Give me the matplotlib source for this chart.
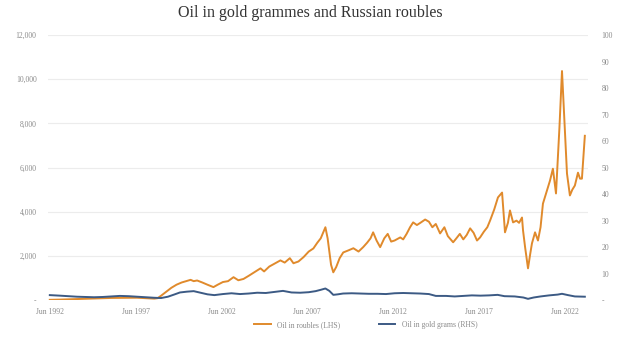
import matplotlib.pyplot as plt
from matplotlib.ticker import FuncFormatter, MultipleLocator

# oil price in roubles (left axis), decimal year -> value
rub_years = [1992.42, 1993.0, 1993.5, 1994.0, 1994.5, 1995.0, 1995.5, 1996.0, 1996.5, 1997.0,
             1997.5, 1998.0, 1998.5, 1998.7, 1998.9, 1999.2, 1999.5, 1999.8, 2000.1, 2000.4,
             2000.62, 2000.8, 2001.0, 2001.3, 2001.6, 2001.95, 2002.2, 2002.5, 2002.8, 2003.12,
             2003.4, 2003.7, 2004.0, 2004.3, 2004.69, 2004.9, 2005.2, 2005.5, 2005.85, 2006.1,
             2006.4, 2006.61, 2006.9, 2007.2, 2007.5, 2007.77, 2008.0, 2008.2, 2008.47, 2008.6,
             2008.8, 2008.93, 2009.1, 2009.3, 2009.51, 2009.8, 2010.1, 2010.4, 2010.67, 2010.9,
             2011.1, 2011.25, 2011.45, 2011.66, 2011.9, 2012.1, 2012.3, 2012.5, 2012.83, 2013.0,
             2013.2, 2013.4, 2013.58, 2013.8, 2014.0, 2014.28, 2014.5, 2014.7, 2014.9, 2015.15,
             2015.4, 2015.6, 2015.91, 2016.1, 2016.3, 2016.5, 2016.7, 2016.9, 2017.1, 2017.3,
             2017.48, 2017.7, 2017.9, 2018.06, 2018.3, 2018.52, 2018.76, 2018.93, 2019.1, 2019.22,
             2019.4, 2019.6, 2019.75, 2019.92, 2019.98, 2020.1, 2020.27, 2020.4, 2020.5, 2020.68,
             2020.85, 2021.0, 2021.14, 2021.35, 2021.55, 2021.72, 2021.9, 2022.1, 2022.25, 2022.4,
             2022.54, 2022.71, 2022.85, 2023.0, 2023.18, 2023.3, 2023.41, 2023.58]
rub_values = [15, 25, 40, 50, 60, 75, 90, 100, 105, 115,
              110, 90, 70, 90, 200, 380, 560, 700, 800, 870,
              920, 860, 890, 800, 700, 590, 700, 820, 860, 1040,
              900, 960, 1100, 1250, 1440, 1300, 1520, 1650, 1800, 1700,
              1900, 1670, 1750, 1950, 2200, 2340, 2600, 2800, 3300, 2800,
              1600, 1260, 1500, 1900, 2160, 2250, 2350, 2200, 2400, 2600,
              2800, 3070, 2700, 2400, 2800, 3000, 2650, 2700, 2840, 2750,
              3000, 3300, 3520, 3400, 3500, 3650, 3550, 3300, 3450, 3020,
              3300, 2900, 2620, 2800, 3000, 2750, 2950, 3250, 3050, 2700,
              2840, 3100, 3300, 3600, 4100, 4650, 4870, 3070, 3500, 4060,
              3520, 3600, 3500, 3740, 3160, 2400, 1440, 2100, 2570, 3070,
              2700, 3300, 4370, 4900, 5410, 5950, 4830, 7800, 10370, 8000,
              5730, 4740, 5000, 5190, 5770, 5500, 5500, 7440]

# oil price in gold grams (right axis)
gold_years = [1992.42, 1993.0, 1993.5, 1994.0, 1994.5, 1995.0, 1995.5, 1996.0, 1996.5, 1997.0,
              1997.5, 1998.0, 1998.5, 1998.9, 1999.3, 1999.7, 2000.0, 2000.4, 2000.8, 2001.2,
              2001.6, 2002.0, 2002.5, 2003.0, 2003.5, 2004.0, 2004.5, 2005.0, 2005.5, 2006.0,
              2006.5, 2007.0, 2007.5, 2007.9, 2008.2, 2008.47, 2008.7, 2008.93, 2009.2, 2009.5,
              2010.0, 2010.5, 2011.0, 2011.5, 2012.0, 2012.5, 2013.0, 2013.5, 2014.0, 2014.5,
              2014.9, 2015.5, 2016.0, 2016.5, 2017.0, 2017.5, 2018.0, 2018.5, 2018.9, 2019.5,
              2020.0, 2020.27, 2020.6, 2021.0, 2021.5, 2022.0, 2022.25, 2022.6, 2023.0, 2023.58]
gold_values = [1.9, 1.7, 1.5, 1.3, 1.2, 1.1, 1.2, 1.4, 1.6, 1.5,
               1.3, 1.1, 0.9, 0.8, 1.3, 2.2, 2.9, 3.2, 3.4, 2.8,
               2.2, 1.9, 2.3, 2.6, 2.3, 2.5, 2.8, 2.7, 3.1, 3.5,
               2.9, 2.8, 3.0, 3.4, 3.9, 4.4, 3.5, 2.0, 2.2, 2.5,
               2.6, 2.5, 2.4, 2.4, 2.3, 2.6, 2.7, 2.6, 2.5, 2.3,
               1.6, 1.6, 1.4, 1.6, 1.8, 1.7, 1.8, 2.0, 1.5, 1.4,
               1.0, 0.5, 1.0, 1.4, 1.8, 2.1, 2.4, 1.9, 1.4, 1.3]

tick_years = [1992.42, 1997.42, 2002.42, 2007.42, 2012.42, 2017.42, 2022.42]
tick_labels = ["Jun 1992", "Jun 1997", "Jun 2002", "Jun 2007", "Jun 2012", "Jun 2017", "Jun 2022"]

orange = "#e08a2c"
blue = "#3c5a84"
grey = "#8a8a8a"

plt.rcParams['font.family'] = ['Liberation Serif', 'DejaVu Serif']

fig = plt.figure(figsize=(6.2, 3.47), dpi=100)
ax = fig.add_axes([0.077, 0.135, 0.871, 0.764])
ax2 = ax.twinx()

ax.plot(rub_years, rub_values, color=orange, linewidth=1.4, label="Oil in roubles (LHS)")
ax2.plot(gold_years, gold_values, color=blue, linewidth=1.4, label="Oil in gold grams (RHS)")

ax.set_xlim(1992.3, 2023.75)
ax.set_ylim(0, 12000)
ax2.set_ylim(0, 100)
ax.yaxis.set_major_locator(MultipleLocator(2000))
ax2.yaxis.set_major_locator(MultipleLocator(10))

ax.yaxis.set_major_formatter(FuncFormatter(lambda v, p: "-" if v == 0 else f"{int(v):,}"))
ax2.yaxis.set_major_formatter(FuncFormatter(lambda v, p: "-" if v == 0 else f"{int(v)}"))
ax.set_xticks(tick_years)
ax.set_xticklabels(tick_labels)

ax.grid(axis='y', color="#ececec", linewidth=0.8)
ax.set_axisbelow(True)
for a in (ax, ax2):
    for s in a.spines.values():
        s.set_visible(False)
    a.tick_params(length=0, labelsize=5.5, colors=grey)
ax.tick_params(axis='y', pad=8)
ax2.tick_params(axis='y', pad=10)
ax.tick_params(axis='x', pad=6)

fig.suptitle("Oil in gold grammes and Russian roubles", fontsize=11.5, color="#333333", y=0.985)

h1, l1 = ax.get_legend_handles_labels()
h2, l2 = ax2.get_legend_handles_labels()
fig.legend(h1 + h2, l1 + l2, loc='center', bbox_to_anchor=(0.59, 0.063), ncol=2,
           frameon=False, fontsize=5.5, labelcolor=grey, handlelength=2.2, columnspacing=5)

fig.savefig("out.png", dpi=100)
